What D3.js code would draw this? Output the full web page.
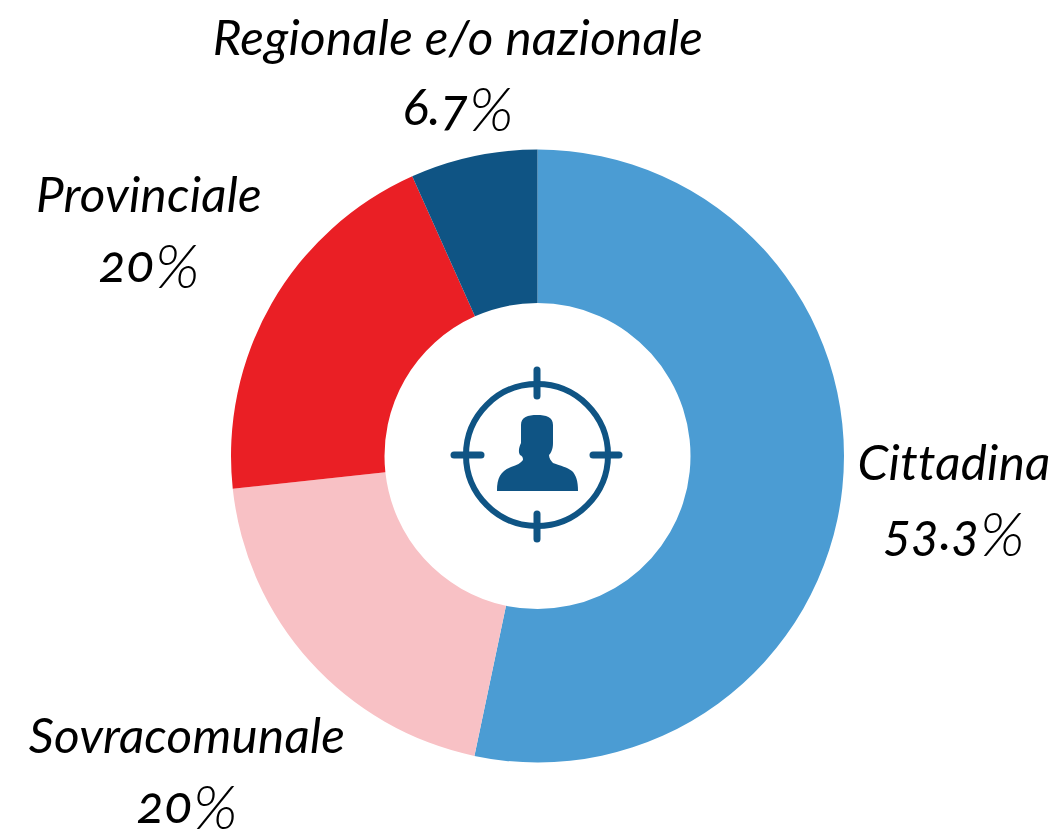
<!DOCTYPE html>
<html>
<head>
<meta charset="utf-8">
<script src="https://cdn.jsdelivr.net/npm/d3@7"></script>
<style>
body { margin: 0; background: #fff; }
svg { display: block; }
text { font-family: Lato, sans-serif; font-style: italic; font-size: 49.4px; fill: #000; font-variant-numeric: oldstyle-nums; font-variant-ligatures: none; letter-spacing: .25px; }
text.val { font-size: 52px; letter-spacing: 0; }
text.val tspan { font-size: 62px; font-weight: 300; }
</style>
</head>
<body>
<script>
var categories = ["Cittadina", "Sovracomunale", "Provinciale", "Regionale e/o nazionale"];
var values = [53.3, 20, 20, 6.7];
var valueLabels = ["53.3", "20", "20", "6.7"];
var colors = ["#4b9cd3", "#f8c1c5", "#ea1f25", "#0f5484"];

var svg = d3.select("body").append("svg")
	.attr("width", 1061)
	.attr("height", 830);

var pie = d3.pie().sort(null).value(function(d){ return d; });
var arc = d3.arc().innerRadius(153).outerRadius(306.5);

var g = svg.append("g").attr("transform", "translate(537.5,456)");

g.selectAll("path.slice")
	.data(pie(values))
	.enter().append("path")
		.attr("class", "slice")
		.attr("d", arc)
		.attr("fill", function(d,i){ return colors[i]; });

// label centres, top line and bottom line
var labelX = [954, 187, 149, 458];
var labelY = [480, 753, 212, 55];
var lineGap = 70;

svg.selectAll("text.cat")
	.data(categories)
	.enter().append("text")
		.attr("class", "cat")
		.attr("text-anchor", "middle")
		.attr("x", function(d,i){ return labelX[i]; })
		.attr("y", function(d,i){ return labelY[i]; })
		.text(function(d){ return d; });

var valueText = svg.selectAll("text.val")
	.data(valueLabels)
	.enter().append("text")
		.attr("class", "val")
		.attr("text-anchor", "middle")
		.attr("x", function(d,i){ return labelX[i]; })
		.attr("y", function(d,i){ return labelY[i] + lineGap; })
		.text(function(d){ return d; });
valueText.append("tspan").attr("dy", 6).text("%");

// target icon in the middle
var icon = svg.append("g").attr("transform", "translate(537,455)");
var ring = icon.append("g").attr("fill", "none").attr("stroke", "#0f5484");
ring.append("circle").attr("r", 71).attr("stroke-width", 6);
var ticks = [[0,-85,0,-59],[0,59,0,84],[-83,0,-56,0],[56,0,82,0]];
ring.selectAll("line")
	.data(ticks)
	.enter().append("line")
		.attr("x1", function(d){ return d[0]; })
		.attr("y1", function(d){ return d[1]; })
		.attr("x2", function(d){ return d[2]; })
		.attr("y2", function(d){ return d[3]; })
		.attr("stroke-width", 7)
		.attr("stroke-linecap", "round");
icon.append("path")
	.attr("fill", "#0f5484")
	.attr("d", "M-40,36 C-40,22 -36,16 -26,12 C-20,10 -16,8 -14,5 C-14,2 -15,1 -17,0 C-19,-3 -18,-8 -16,-12 L-16,-30 C-16,-38 -9,-40 0,-40 C9,-40 16,-38 16,-30 L16,-12 C16,-6 14,-2 12,0 C12,3 14,6 16,8 C24,11 30,12 35,16 C39,20 41,26 41,36 Z");
</script>
</body>
</html>
